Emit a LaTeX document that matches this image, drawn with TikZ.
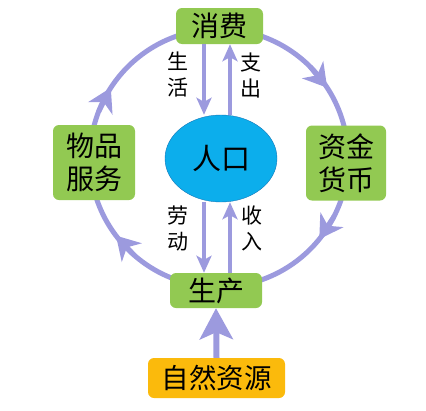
\documentclass[tikz,border=0pt]{standalone}
\usepackage{fontspec}
\setmainfont{Noto Sans CJK SC}
\usetikzlibrary{arrows.meta,calc,shapes.geometric,positioning}
\definecolor{LeafGreen}{RGB}{146,201,82}
\definecolor{GoldOrange}{RGB}{251,186,12}
\definecolor{SkyBlue}{RGB}{12,174,236}
\definecolor{EdgeBlue}{RGB}{20,120,185}
\definecolor{Lavender}{RGB}{156,154,222}
\newcommand{\cjksize}[1]{\fontsize{#1pt}{#1pt}\selectfont}

\begin{document}
\begin{tikzpicture}[x=1pt,y=1pt,
  box/.style={fill=LeafGreen,rounded corners=6pt,inner sep=0pt,align=center},
  tag/.style={align=center,inner sep=0pt,font=\fontsize{21pt}{26pt}\selectfont},
  flow/.style={Lavender,line width=4.5pt,-{Stealth[length=17pt,width=15pt,inset=4pt]}},
  ringline/.style={Lavender,line width=5pt}]
  \useasboundingbox (0,0) rectangle (426,-410);
  % outer cycle: one quarter arc each, with a head on top
  \coordinate (hub) at (219,-158);
  \foreach \a/\m/\b in {90/33/0, 0/-39/-90, -90/-143/-180, 180/147/90}{
    \draw[ringline] (hub) ++(\a:129pt) arc[start angle=\a,end angle=\b,radius=129pt];
    \draw[ringline,-{Stealth[length=23pt,width=27pt,inset=7pt]}] ($(hub)+(\m+12:129pt)$) -- ($(hub)+(\m:129pt)$);
  }
  % boxes
  \node[box,minimum width=87pt,minimum height=36pt,font=\cjksize{28}] (xiaofei) at (219.5,-26) {消费};
  \node[box,minimum width=82pt,minimum height=75pt,font=\fontsize{28pt}{33pt}\selectfont] (wupin) at (94,-162.5) {物品\\服务};
  \node[box,minimum width=80pt,minimum height=75pt,font=\fontsize{28pt}{33pt}\selectfont] (zijin) at (346,-163) {资金\\货币};
  \node[box,minimum width=92pt,minimum height=35pt,font=\cjksize{28}] (shengchan) at (216,-290.5) {生产};
  \node[box,fill=GoldOrange,minimum width=137pt,minimum height=40pt,font=\cjksize{27.5}] (ziran) at (216.5,-378) {自然资源};
  \node[ellipse,fill=SkyBlue,draw=EdgeBlue,thin,inner sep=0pt,minimum width=112pt,minimum height=87pt,font=\cjksize{29}] (renkou) at (221,-158.5) {人口};
  % lanes for the inner arrows
  \coordinate (laneL) at (204,0);
  \coordinate (laneR) at (230,0);
  \draw[flow] (xiaofei.south -| laneL) -- (renkou.north -| laneL);
  \draw[flow] (renkou.north -| laneR) -- (xiaofei.south -| laneR);
  \draw[flow] (renkou.south -| laneL) -- (shengchan.north -| laneL);
  \draw[flow] (shengchan.north -| laneR) -- (renkou.south -| laneR);
  \draw[Lavender,line width=6pt,-{Stealth[length=31pt,width=33pt,inset=7pt]}] (ziran.north) -- (shengchan.south);
  % labels
  \node[tag] (shenghuo) at (178,-75) {生\\活};
  \node[tag] (zhichu) at (251,-75) {支\\出};
  \node[tag] (laodong) at (178,-229) {劳\\动};
  \node[tag] (shouru) at (252,-228) {收\\入};
\end{tikzpicture}
\end{document}
